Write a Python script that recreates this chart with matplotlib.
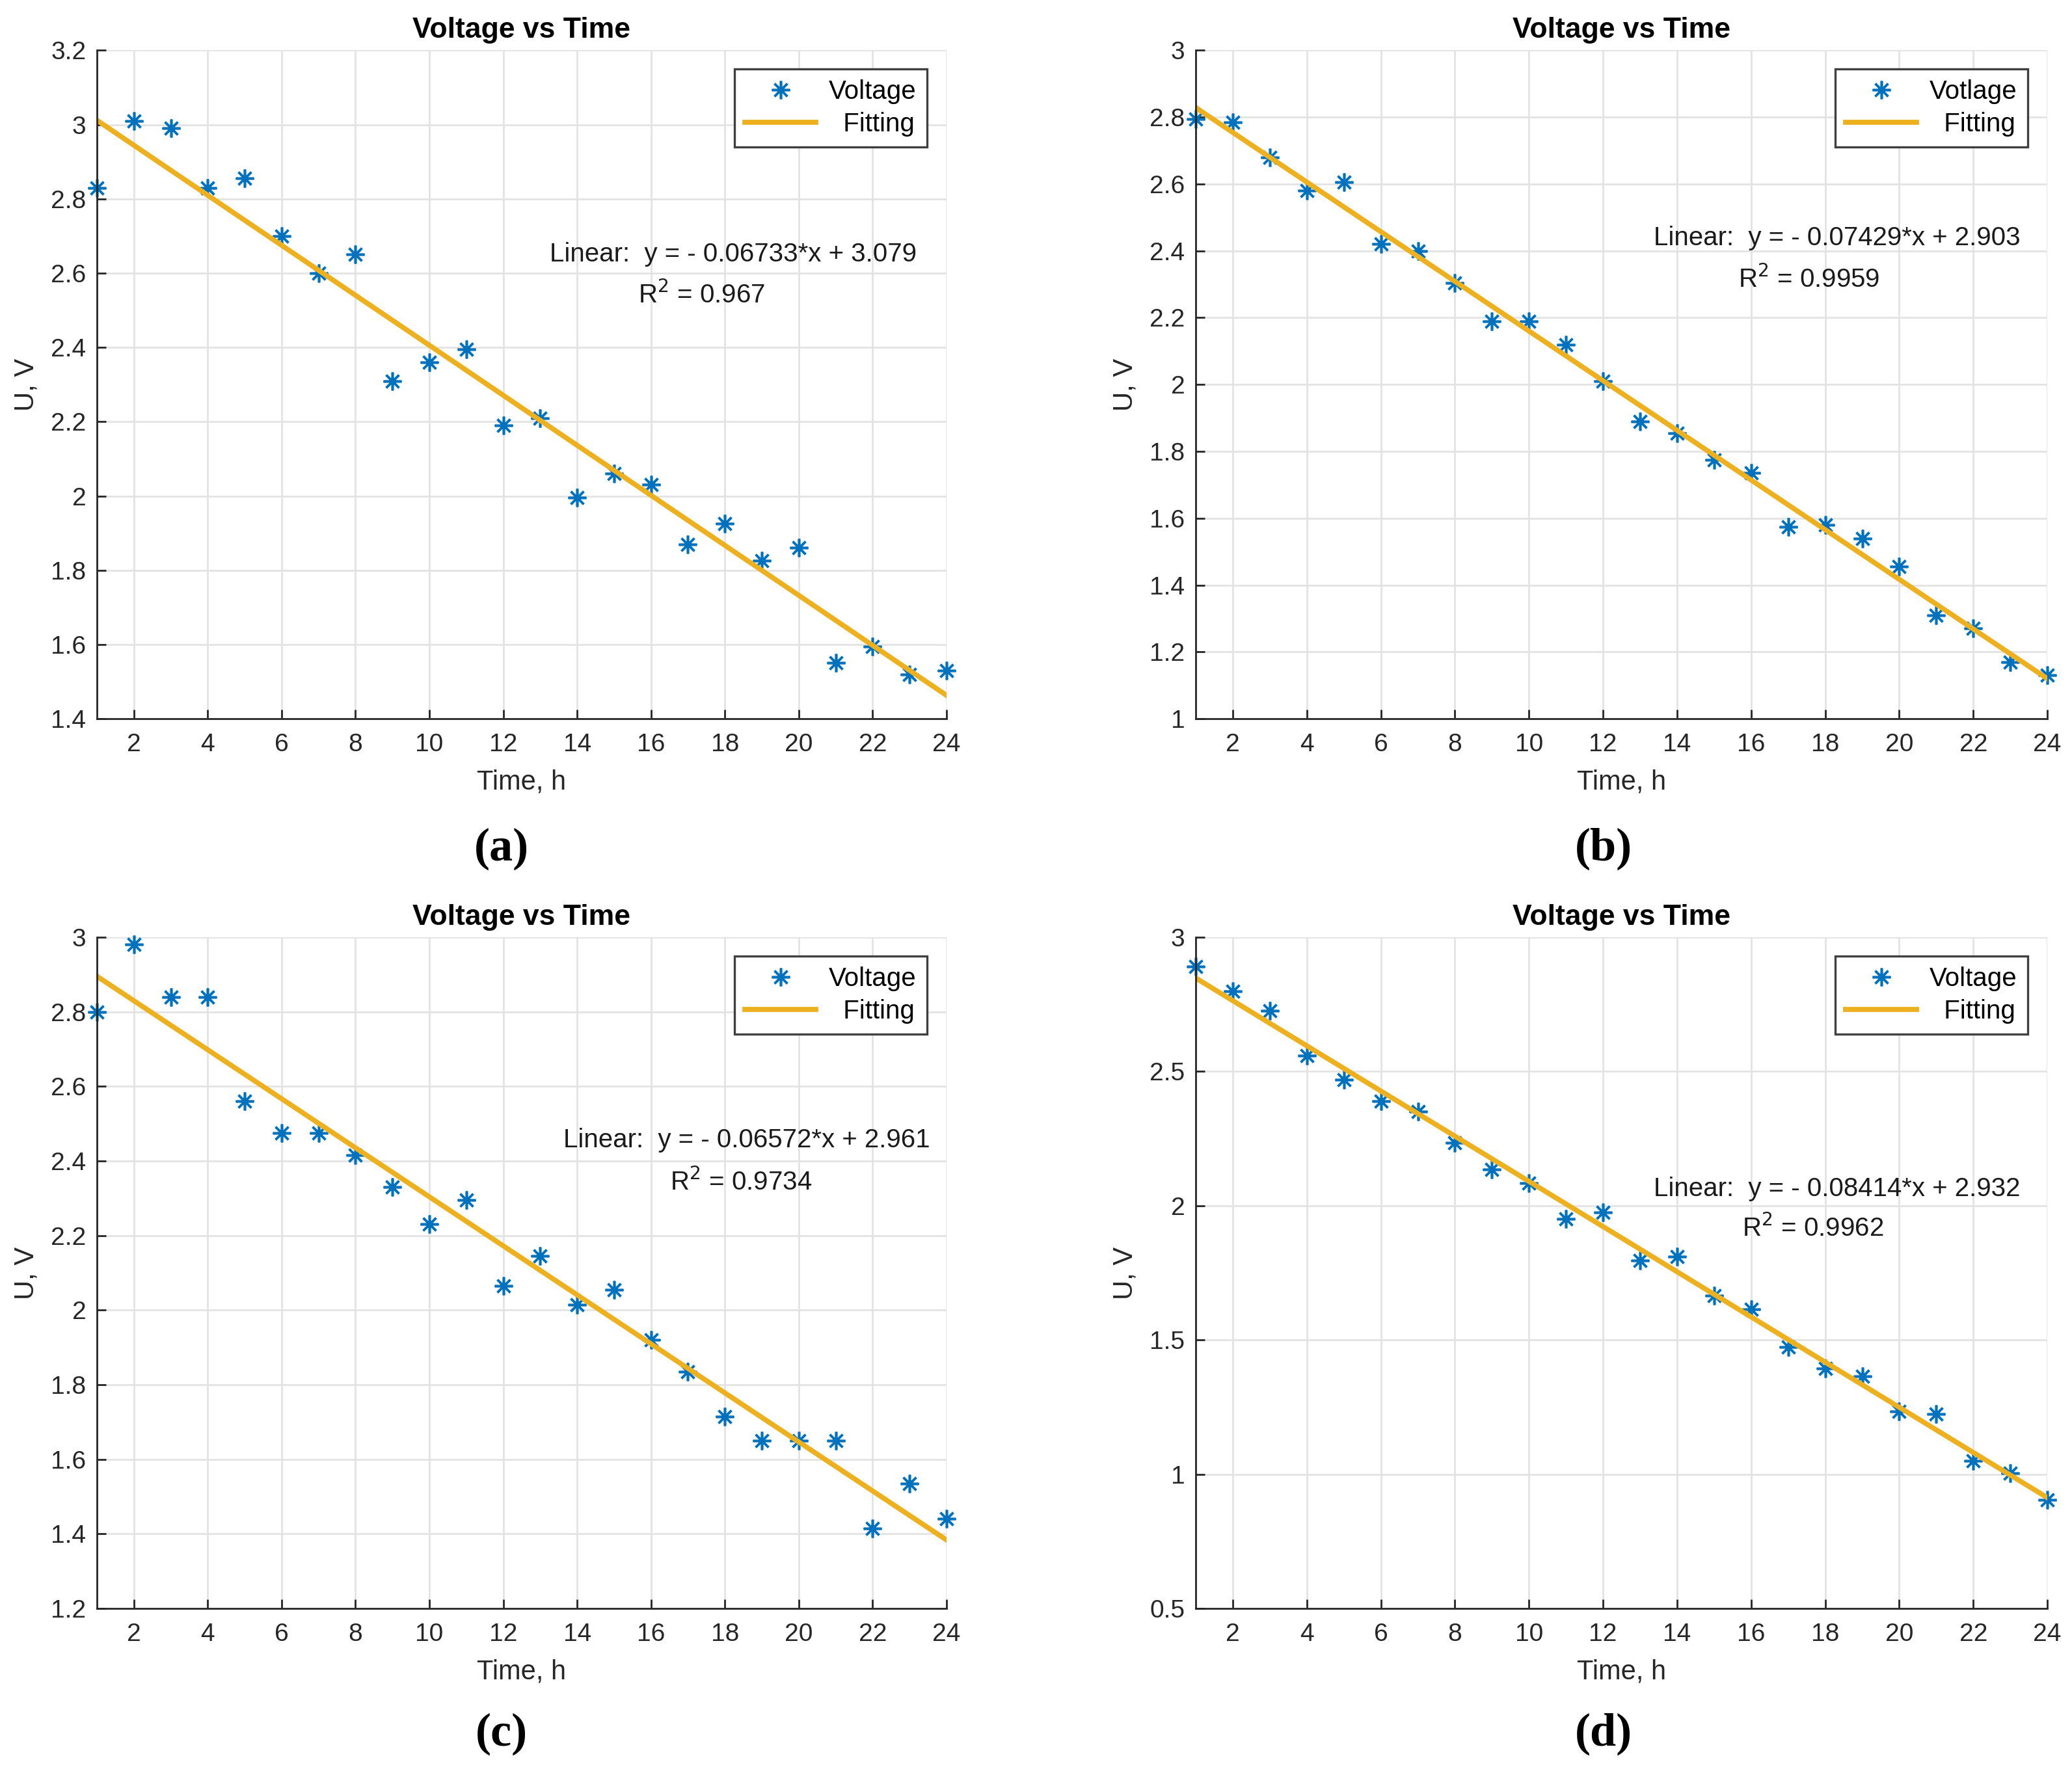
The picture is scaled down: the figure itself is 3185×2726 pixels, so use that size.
import numpy as np
import matplotlib
matplotlib.use("Agg")
import matplotlib.pyplot as plt

plt.rcParams['font.family'] = ['Liberation Sans', 'DejaVu Sans']

hours = np.arange(1, 25)

volt_a = [2.83, 3.01, 2.99, 2.83, 2.855, 2.70, 2.60, 2.65, 2.31, 2.36, 2.395, 2.19,
          2.21, 1.995, 2.06, 2.03, 1.87, 1.925, 1.825, 1.86, 1.55, 1.595, 1.52, 1.53]
volt_b = [2.795, 2.785, 2.68, 2.58, 2.605, 2.42, 2.40, 2.305, 2.19, 2.19, 2.12, 2.01,
          1.89, 1.855, 1.775, 1.735, 1.575, 1.58, 1.54, 1.455, 1.31, 1.27, 1.17, 1.13]
volt_c = [2.80, 2.98, 2.84, 2.84, 2.56, 2.475, 2.475, 2.415, 2.33, 2.23, 2.295, 2.065,
          2.145, 2.015, 2.055, 1.92, 1.835, 1.715, 1.65, 1.65, 1.65, 1.415, 1.535, 1.44]
volt_d = [2.89, 2.80, 2.725, 2.56, 2.47, 2.39, 2.35, 2.235, 2.135, 2.085, 1.95, 1.975,
          1.795, 1.81, 1.665, 1.615, 1.475, 1.395, 1.365, 1.235, 1.225, 1.05, 1.005, 0.905]

slopes = [-0.06733, -0.07429, -0.06572, -0.08414]
intercepts = [3.079, 2.903, 2.961, 2.932]
r2_text = ['0.967', '0.9959', '0.9734', '0.9962']
legend_names = ['Voltage', 'Votlage', 'Voltage', 'Voltage']
panel_tags = ['(a)', '(b)', '(c)', '(d)']

ylims = [(1.4, 3.2), (1.0, 3.0), (1.2, 3.0), (0.5, 3.0)]
ysteps = [0.2, 0.2, 0.2, 0.5]

blue = '#0072BD'
gold = '#EDB120'
axcol = '#262626'

# axes rectangles in figure fractions
rects = [
    [0.0468, 0.5946, 0.410, 0.377],
    [0.5771, 0.5946, 0.411, 0.377],
    [0.0468, 0.0928, 0.410, 0.3786],
    [0.5771, 0.0928, 0.411, 0.3786],
]
# text positions (axes fractions) for fit equation and R^2
eq_pos = [(0.749, 0.695), (0.753, 0.719), (0.765, 0.698), (0.753, 0.625)]
r2_pos = [(0.712, 0.634), (0.720, 0.657), (0.758, 0.635), (0.725, 0.566)]
tag_pos = [(0.242, 0.521), (0.774, 0.521), (0.242, 0.022), (0.774, 0.022)]

fig = plt.figure(figsize=(15.925, 13.63), dpi=200)

for i, volts in enumerate([volt_a, volt_b, volt_c, volt_d]):
    ax = fig.add_axes(rects[i])
    ax.plot(hours, volts, linestyle='none', marker=(8, 2, 0), markersize=10,
            markeredgewidth=1.3, color=blue, label=legend_names[i], clip_on=False)
    fit = slopes[i] * hours + intercepts[i]
    ax.plot(hours, fit, color=gold, linewidth=2.8, label='  Fitting')

    ax.set_xlim(1, 24)
    ax.set_ylim(*ylims[i])
    ax.set_xticks(np.arange(2, 25, 2))
    ax.set_yticks(np.arange(ylims[i][0], ylims[i][1] + 1e-6, ysteps[i]))
    ax.set_yticklabels(['%g' % round(v, 2) for v in ax.get_yticks()])

    ax.grid(True, color='#e3e3e3', linewidth=1.0)
    ax.set_axisbelow(True)
    ax.spines['top'].set_visible(False)
    ax.spines['right'].set_visible(False)
    for s in ['left', 'bottom']:
        ax.spines[s].set_color(axcol)
        ax.spines[s].set_linewidth(1.0)
    ax.tick_params(direction='in', length=5, width=1.0, colors=axcol,
                   labelsize=14, pad=8)
    ax.tick_params(axis='y', pad=6)

    ax.set_title('Voltage vs Time', fontsize=16, fontweight='bold', pad=7,
                 color='black')
    ax.set_xlabel('Time, h', fontsize=15, color=axcol)
    ax.set_ylabel('U, V', fontsize=15, color=axcol)
    ax.xaxis.set_label_coords(0.5, -0.075)
    ax.yaxis.set_label_coords(-0.068, 0.5)

    ax.text(eq_pos[i][0], eq_pos[i][1],
            'Linear:  y = - %s*x + %s' % (str(-slopes[i]), '%.3f' % intercepts[i]),
            transform=ax.transAxes, ha='center', va='center', fontsize=14.5,
            color='#1a1a1a')
    ax.text(r2_pos[i][0], r2_pos[i][1], 'R$^2$ = ' + r2_text[i],
            transform=ax.transAxes, ha='center', va='center', fontsize=14.5,
            color='#1a1a1a')

    leg = ax.legend(loc='upper right', bbox_to_anchor=(0.977, 0.972), fontsize=14.5,
                    fancybox=False, framealpha=1, edgecolor='#404040',
                    handlelength=2.7, handletextpad=0.5, borderpad=0.4,
                    labelspacing=0.3, borderaxespad=0)
    leg.get_frame().set_linewidth(1.2)

    fig.text(tag_pos[i][0], tag_pos[i][1], panel_tags[i], ha='center', va='center',
             fontsize=26, fontweight='bold', family='Liberation Serif')

fig.savefig('out.png', dpi=200)
